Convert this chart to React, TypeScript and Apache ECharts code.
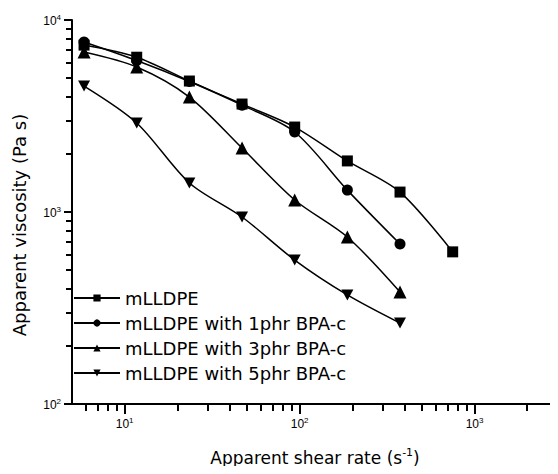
import React, { useEffect, useRef } from "react";
import * as echarts from "echarts";

const shearRates = [5.86, 11.72, 23.44, 46.88, 93.75, 187.5, 375, 750];
const seriesNames = [
  "mLLDPE",
  "mLLDPE with 1phr BPA-c",
  "mLLDPE with 3phr BPA-c",
  "mLLDPE with 5phr BPA-c",
];
const viscPure = [7400, 6400, 4810, 3650, 2770, 1845, 1270, 620];
const visc1phr = [7680, 6150, 4780, 3600, 2610, 1300, 681];
const visc3phr = [6810, 5690, 3970, 2154, 1155, 741, 383];
const visc5phr = [4530, 2910, 1417, 942, 562, 370, 264];

const xRange = [5, 3000];
const yRange = [100, 10000];
const xMajorTicks = [10, 100, 1000];
const xMinorTicks = [6, 7, 8, 9, 20, 30, 40, 50, 60, 70, 80, 90, 200, 300, 400, 500, 600, 700, 800, 900, 2000, 3000];
const yMajorTicks = [100, 1000, 10000];
const yMinorTicks = [200, 300, 400, 500, 600, 700, 800, 900, 2000, 3000, 4000, 5000, 6000, 7000, 8000, 9000];

const FONT = "'Liberation Sans', Arial, sans-serif";
const TITLE_FONT = "'DejaVu Sans', 'Liberation Sans', sans-serif";

const expLabel = (v: number) => `{b|10}{s|${Math.round(Math.log10(v))}}`;

const richLabel = {
  b: { fontSize: 12, fontFamily: FONT, color: "#000", verticalAlign: "bottom", lineHeight: 14 },
  s: { fontSize: 8, fontFamily: FONT, color: "#000", verticalAlign: "top", lineHeight: 14, padding: [0, 0, 6, 0] },
};

const symbols = ["rect", "circle", "triangle", "path://M0,0 L10,0 L5,9 Z"];
const dataSets = [viscPure, visc1phr, visc3phr, visc5phr];

export default function App() {
  const ref = useRef<HTMLDivElement>(null);
  useEffect(() => {
    if (!ref.current) return;
    const chart = echarts.init(ref.current, undefined, { renderer: "svg" });
    const minorAxis = (range: number[], ticks: number[], len: number, pos: string) => ({
      type: "log",
      logBase: 10,
      min: range[0],
      max: range[1],
      position: pos,
      axisLine: { show: false },
      axisTick: { show: true, customValues: ticks, length: len, lineStyle: { color: "#000", width: 2 } },
      axisLabel: { show: false },
      splitLine: { show: false },
    });
    chart.setOption({
      animation: false,
      backgroundColor: "#fff",
      textStyle: { fontFamily: FONT, color: "#000" },
      grid: { left: 72, right: 0, top: 20, bottom: 70, containLabel: false },
      legend: {
        orient: "vertical",
        left: 73,
        top: 289,
        padding: 0,
        itemWidth: 46,
        itemHeight: 9,
        itemGap: 7,
        textStyle: { fontSize: 18, fontFamily: TITLE_FONT, color: "#000", lineHeight: 18 },
        data: seriesNames,
      },
      xAxis: [
        {
          type: "log",
          logBase: 10,
          min: xRange[0],
          max: xRange[1],
          position: "bottom",
          name: "Apparent shear rate (s{s|-1})",
          nameLocation: "middle",
          nameGap: 43,
          nameTextStyle: {
            rich: {
              s: { fontSize: 11, fontFamily: TITLE_FONT, color: "#000", verticalAlign: "top", padding: [0, 0, 10, 0] },
            },
            fontSize: 17,
            fontFamily: TITLE_FONT,
            color: "#000",
          },
          axisLine: { show: true, lineStyle: { color: "#000", width: 2 } },
          axisTick: { show: true, customValues: xMajorTicks, length: 10, lineStyle: { color: "#000", width: 2 } },
          axisLabel: { show: true, customValues: xMajorTicks, formatter: expLabel, rich: richLabel, margin: 12 },
          splitLine: { show: false },
        },
        minorAxis(xRange, xMinorTicks, 7, "bottom"),
      ],
      yAxis: [
        {
          type: "log",
          logBase: 10,
          min: yRange[0],
          max: yRange[1],
          position: "left",
          name: "Apparent viscosity (Pa s)",
          nameLocation: "middle",
          nameGap: 44,
          nameTextStyle: { fontSize: 18, fontFamily: TITLE_FONT, color: "#000", padding: [0, 26, 0, 0] },
          axisLine: { show: true, lineStyle: { color: "#000", width: 2 } },
          axisTick: { show: true, customValues: yMajorTicks, length: 8, lineStyle: { color: "#000", width: 2 } },
          axisLabel: { show: true, customValues: yMajorTicks, formatter: expLabel, rich: richLabel, margin: 11 },
          splitLine: { show: false },
        },
        minorAxis(yRange, yMinorTicks, 6, "left"),
      ],
      series: seriesNames.map((name, i) => ({
        name,
        type: "line",
        xAxisIndex: 0,
        yAxisIndex: 0,
        smooth: 0.3,
        symbol: symbols[i],
        symbolSize: i === 3 ? [12, 11] : i === 2 ? 13 : 11,
        showAllSymbol: true,
        lineStyle: { color: "#000", width: 1.5 },
        itemStyle: { color: "#000" },
        data: dataSets[i].map((v, j) => [shearRates[j], v]),
      })),
    });
    return () => chart.dispose();
  }, []);
  return <div ref={ref} style={{ width: 558, height: 474, margin: -8 }} />;
}
